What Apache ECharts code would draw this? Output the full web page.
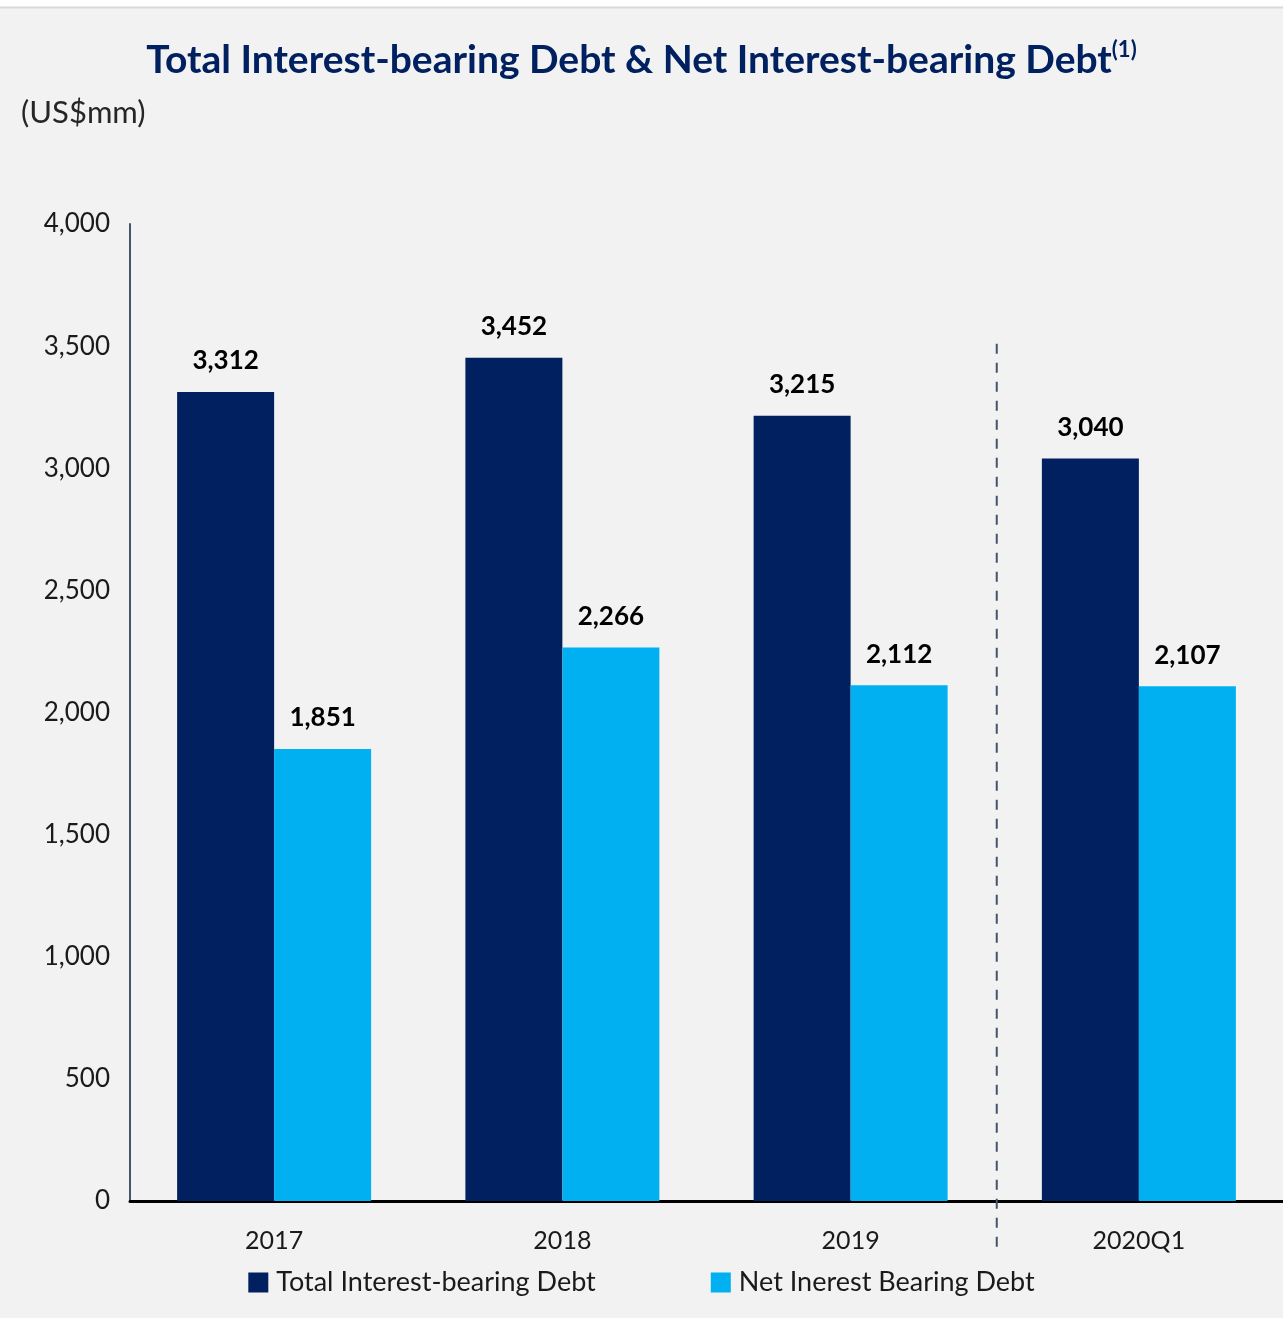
<!DOCTYPE html>
<html>
<head>
<meta charset="utf-8">
<script src="https://cdn.jsdelivr.net/npm/echarts@6/dist/echarts.min.js"></script>
<style>
  html, body { margin: 0; padding: 0; background: #ffffff; }
  #chart { width: 1283px; height: 1318px; }
</style>
</head>
<body>
<div id="chart"></div>
<script>
// data
const categories = ['2017', '2018', '2019', '2020Q1'];
const totalDebt = [3312, 3452, 3215, 3040];
const netDebt = [1851, 2266, 2112, 2107];
const seriesNames = ['Total Interest-bearing Debt', 'Net Inerest Bearing Debt'];
const yTicks = { min: 0, max: 4000, interval: 500 };

const FONT = 'Lato, "Open Sans", sans-serif';
const fmt = (v) => Number(v).toLocaleString('en-US');

const chart = echarts.init(document.getElementById('chart'));

const option = {
  backgroundColor: '#f2f2f2',
  textStyle: { fontFamily: FONT },
  title: [
    {
      text: 'Total Interest-bearing Debt & Net Interest-bearing Debt{sup|(1)}',
      left: 'center',
      top: 34,
      textStyle: {
        fontFamily: FONT,
        fontSize: 39,
        fontWeight: 'bold',
        color: '#002060',
        rich: {
          sup: { fontFamily: FONT, fontSize: 22, fontWeight: 'bold', color: '#002060', verticalAlign: 'top', padding: [0, 0, 20, 0] }
        }
      }
    },
    {
      text: '(US$mm)',
      left: 16,
      top: 92,
      textStyle: { fontFamily: FONT, fontSize: 31, fontWeight: 'normal', color: '#262626' }
    }
  ],
  legend: {
    bottom: 17,
    left: 'center',
    itemWidth: 20,
    itemHeight: 20,
    itemGap: 115,
    icon: 'rect',
    textStyle: { fontFamily: FONT, fontSize: 27, color: '#1a1a1a', padding: [0, 0, 0, 3] },
    data: seriesNames
  },
  grid: { left: 130, right: 0, top: 224, bottom: 117 },
  xAxis: {
    type: 'category',
    data: categories,
    axisLine: { lineStyle: { color: '#000000', width: 3 } },
    axisTick: { show: false },
    axisLabel: { fontFamily: FONT, fontSize: 25, color: '#1a1a1a', margin: 27 }
  },
  yAxis: {
    type: 'value',
    min: yTicks.min,
    max: yTicks.max,
    interval: yTicks.interval,
    splitLine: { show: false },
    axisTick: { show: false },
    axisLine: { show: true, lineStyle: { color: '#44546a', width: 2 } },
    axisLabel: { fontFamily: FONT, fontSize: 26, color: '#1a1a1a', margin: 20, formatter: fmt }
  },
  series: [
    {
      name: seriesNames[0],
      type: 'bar',
      data: totalDebt,
      barWidth: 97,
      barGap: '0%',
      itemStyle: { color: '#002060' },
      label: {
        show: true, position: 'top', distance: 18,
        fontFamily: FONT, fontSize: 26, fontWeight: 'bold', color: '#000000',
        formatter: (p) => fmt(p.value)
      }
    },
    {
      name: seriesNames[1],
      type: 'bar',
      data: netDebt,
      barWidth: 97,
      barGap: '0%',
      itemStyle: { color: '#00b0f0' },
      label: {
        show: true, position: 'top', distance: 18,
        fontFamily: FONT, fontSize: 26, fontWeight: 'bold', color: '#000000',
        formatter: (p) => fmt(p.value)
      }
    }
  ]
};

chart.setOption(option);

// separator between annual and quarterly figures, placed through the axes
const x2019 = chart.convertToPixel({ xAxisIndex: 0 }, '2019');
const xQ1 = chart.convertToPixel({ xAxisIndex: 0 }, '2020Q1');
const sepX = (x2019 + xQ1) / 2 + 2;
const sepTop = chart.convertToPixel({ yAxisIndex: 0 }, 3510);
const axisY = chart.convertToPixel({ yAxisIndex: 0 }, 0);

chart.setOption({
  graphic: [
    { type: 'rect', shape: { x: 0, y: 0, width: 1283, height: 7 }, style: { fill: '#ffffff' }, silent: true },
    { type: 'line', shape: { x1: 0, y1: 7.5, x2: 1283, y2: 7.5 }, style: { stroke: '#d9d9d9', lineWidth: 2 }, silent: true },
    {
      type: 'line',
      shape: { x1: sepX, y1: sepTop, x2: sepX, y2: axisY + 49 },
      style: { stroke: '#44546a', lineWidth: 2, lineDash: [10, 9] },
      z: 10,
      silent: true
    }
  ]
});
</script>
</body>
</html>
